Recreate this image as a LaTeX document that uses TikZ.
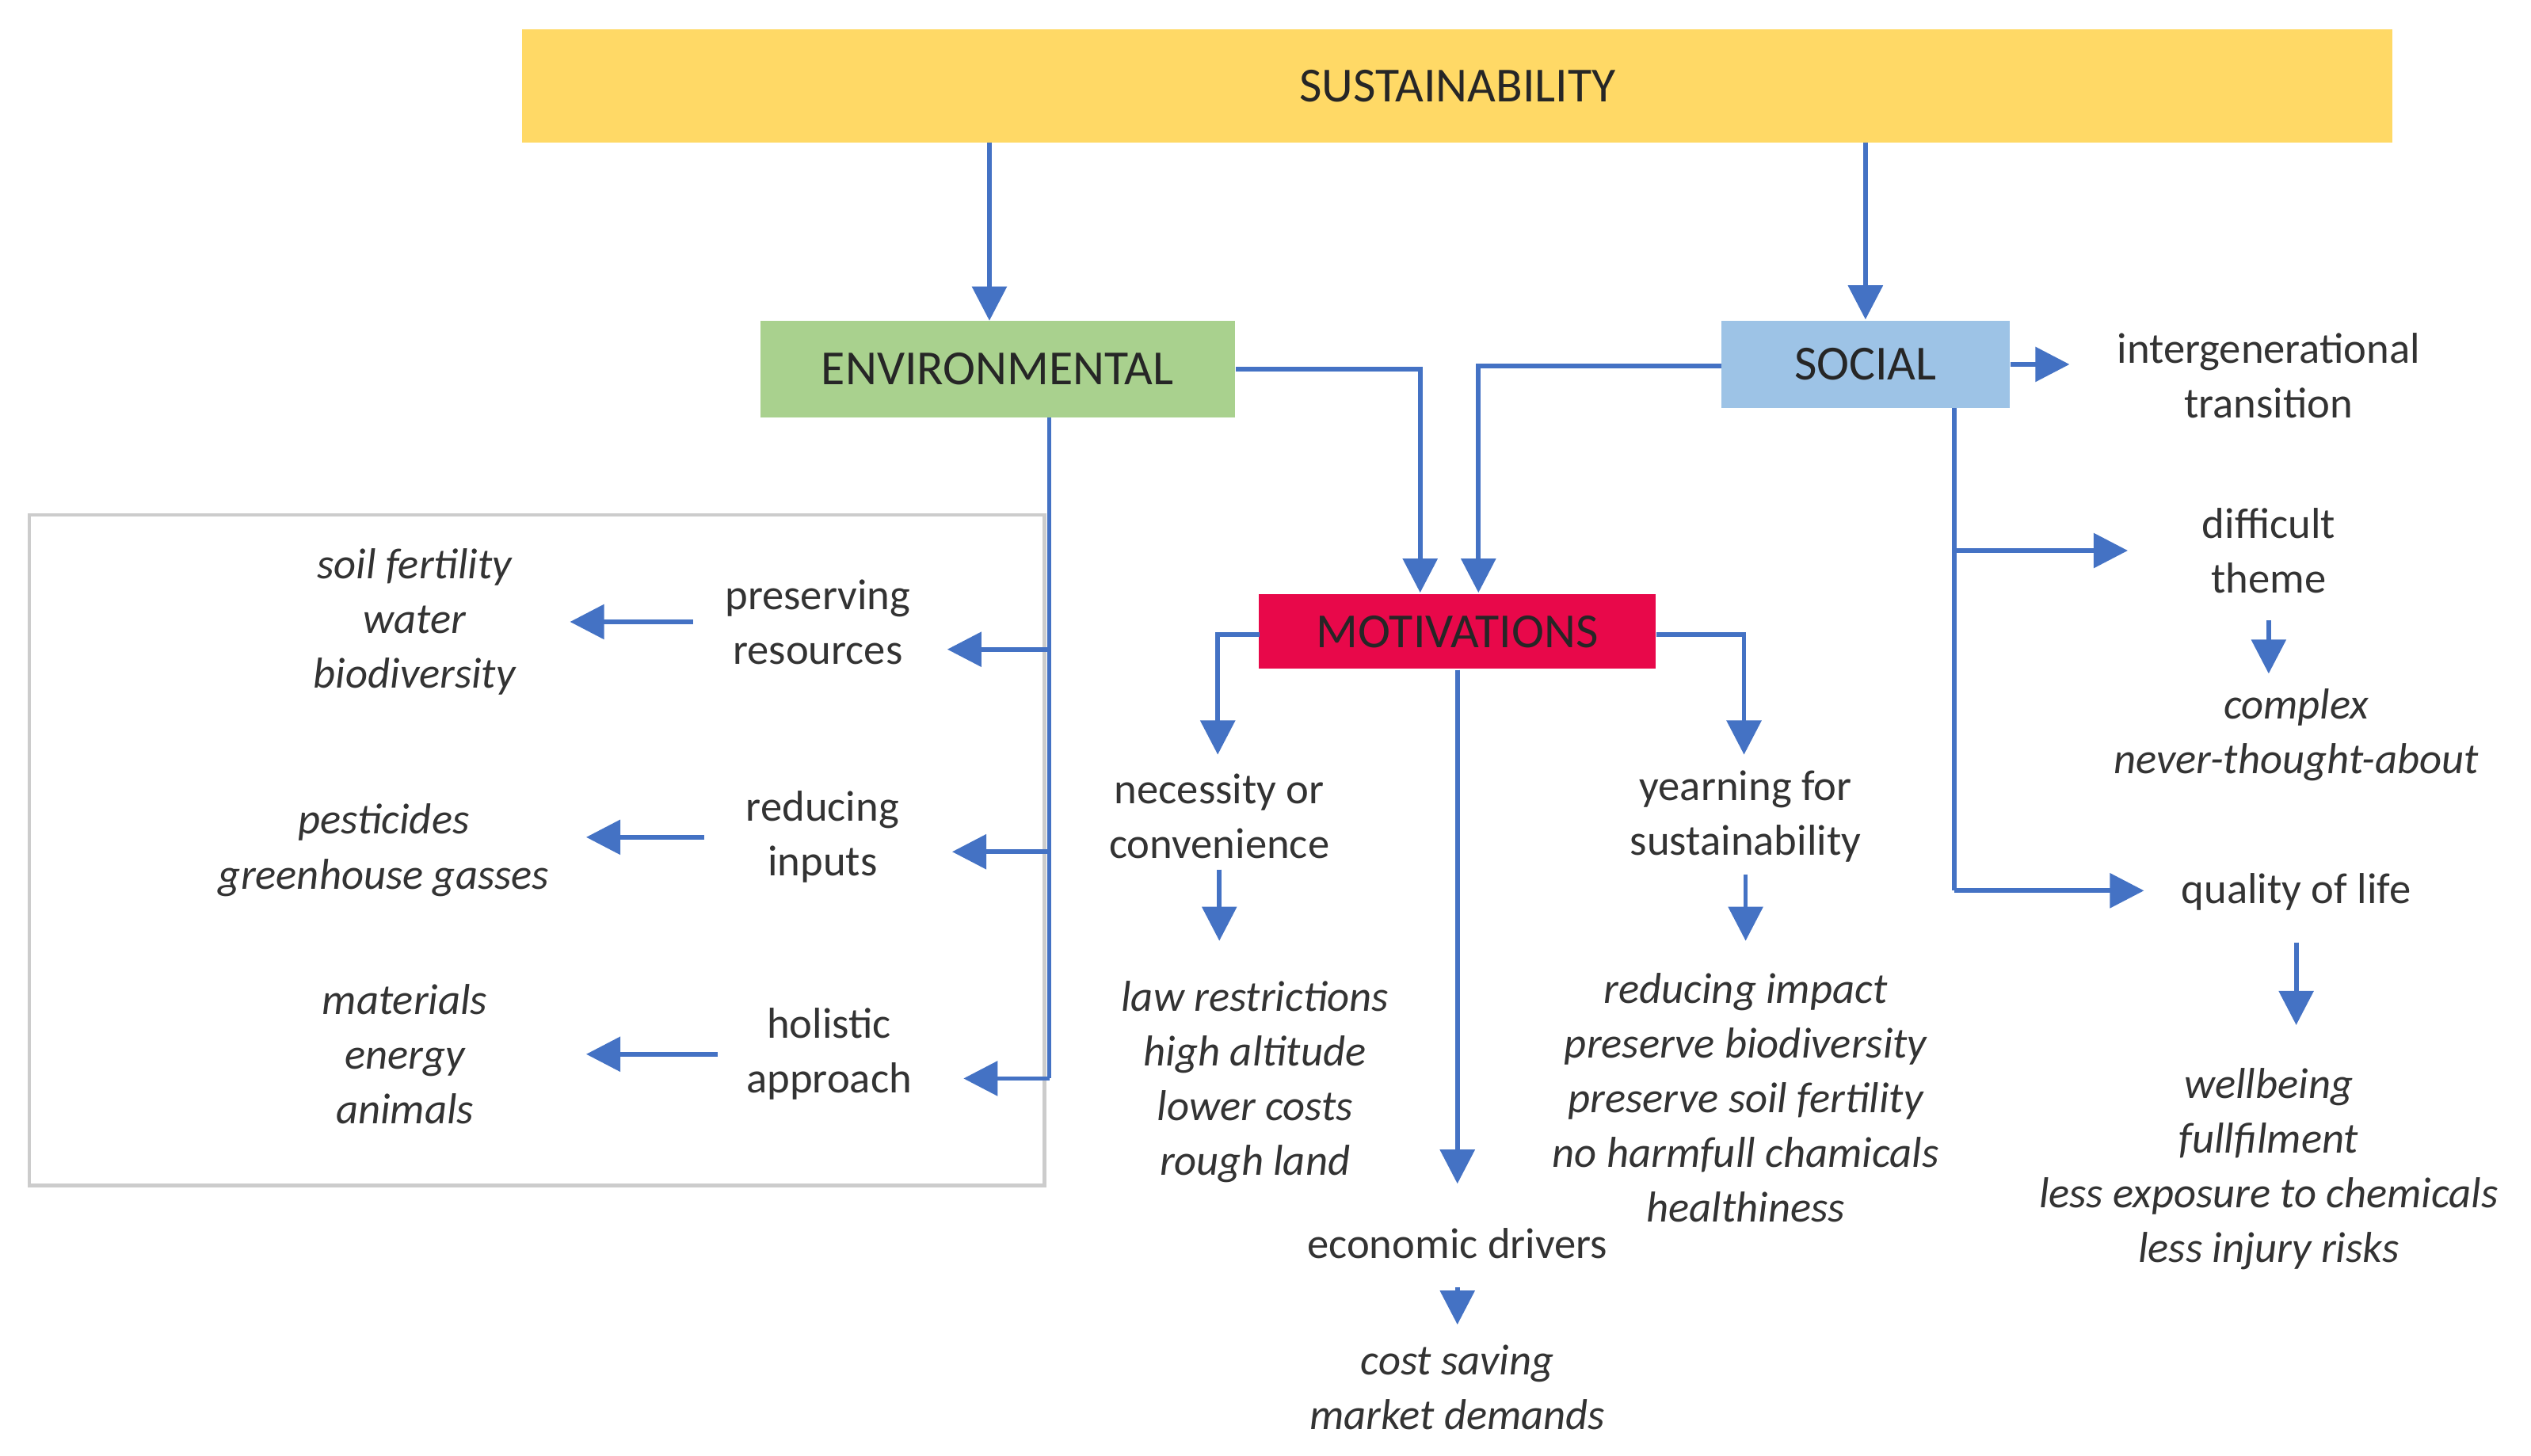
\documentclass[tikz,border=0pt]{standalone}
\usepackage{fontspec}
\setmainfont{Carlito}
\usetikzlibrary{arrows.meta}
\definecolor{sus}{HTML}{FFD966}
\definecolor{env}{HTML}{A9D18E}
\definecolor{soc}{HTML}{9DC3E6}
\definecolor{mot}{HTML}{E8084A}
\definecolor{arr}{HTML}{4472C4}
\begin{document}
\begin{tikzpicture}[x=0.01cm,y=-0.01cm,
  txt/.style={align=center,inner sep=0pt,font=\fontsize{7.6}{9.6}\selectfont,text=black!80},
  itx/.style={txt,font=\fontsize{7.6}{9.6}\selectfont\itshape},
  box/.style={draw=none,inner sep=0pt,font=\fontsize{8.6}{10}\selectfont,text=black!85},
  ar/.style={draw=arr,line width=0.8pt,-{Triangle[length=6pt,width=6pt]}},
  ln/.style={draw=arr,line width=0.8pt}]
\useasboundingbox (0,0) rectangle (1563,899);
\fill[white] (0,0) rectangle (1563,899);
\draw[black!20,line width=0.6pt] (18,318) rectangle (645,732);
% boxes
\node[box,fill=sus,minimum width=1155*0.01cm,minimum height=70*0.01cm] (sus) at (900,53) {SUSTAINABILITY};
\node[box,fill=env,minimum width=293*0.01cm,minimum height=60*0.01cm] (env) at (616,228) {ENVIRONMENTAL};
\node[box,fill=soc,minimum width=178*0.01cm,minimum height=54*0.01cm] (soc) at (1152,225) {SOCIAL};
\node[box,fill=mot,minimum width=245*0.01cm,minimum height=46*0.01cm] (mot) at (900,390) {MOTIVATIONS};
% top arrows
\coordinate (s1) at (611,88); \coordinate (e1) at (611,198);
\coordinate (s2) at (1152,88);
\draw[ar] (s1) -- (e1);
\draw[ar] (s2) -- (soc.north);
\coordinate (eb) at (877,228); \coordinate (m1) at (877,366);
\draw[ar] (env.east) -| (m1);
\coordinate (sl) at (1063,226); \coordinate (m2) at (913,366);
\draw[ar] (sl) -| (m2);
% social
\node[txt] (inter) at (1401,232) {intergenerational\\transition};
\coordinate (sr) at (1278,225);
\draw[ar] (soc.east) -- (sr);
\coordinate (sb) at (1207,252); \coordinate (sb1) at (1207,340); \coordinate (sb2) at (1207,550);
\coordinate (d1) at (1314,340); \coordinate (q1) at (1324,550);
\draw[ln] (sb) -- (sb2);
\draw[ar] (sb1) -- (d1);
\draw[ar] (sb2) -- (q1);
\node[txt] (diff) at (1401,340) {difficult\\theme};
\node[itx] (compl) at (1418,454) {complex\\never-thought-about};
\coordinate (da) at (1401,383); \coordinate (db) at (1401,416);
\draw[ar] (da) -- (db);
\node[txt] (qol) at (1418,551) {quality of life};
\coordinate (qa) at (1418,582); \coordinate (qb) at (1418,633);
\draw[ar] (qa) -- (qb);
\node[itx] (well) at (1401,722) {wellbeing\\fullfilment\\less exposure to chemicals\\less injury risks};
% environmental
\coordinate (et) at (648,258); \coordinate (eb1) at (648,401); \coordinate (eb2) at (648,526); \coordinate (eb3) at (648,666);
\coordinate (p1) at (585,401); \coordinate (p2) at (588,526); \coordinate (p3) at (595,666);
\draw[ln] (et) -- (eb3);
\draw[ar] (eb1) -- (p1);
\draw[ar] (eb2) -- (p2);
\draw[ar] (eb3) -- (p3);
\node[txt] (pres) at (505,384) {preserving\\resources};
\node[txt] (red) at (508,517) {reducing\\inputs};
\node[txt] (hol) at (512,651) {holistic\\approach};
\coordinate (a1) at (428,384); \coordinate (a1e) at (352,384);
\coordinate (a2) at (435,517); \coordinate (a2e) at (362,517);
\coordinate (a3) at (443,651); \coordinate (a3e) at (362,651);
\draw[ar] (a1) -- (a1e);
\draw[ar] (a2) -- (a2e);
\draw[ar] (a3) -- (a3e);
\node[itx] (soil) at (256,384) {soil fertility\\water\\biodiversity};
\node[itx] (pest) at (237,525) {pesticides\\greenhouse gasses};
\node[itx] (mat) at (250,651) {materials\\energy\\animals};
% motivations
\coordinate (ml) at (778,392); \coordinate (nt) at (752,466);
\draw[ar] (ml) -| (nt);
\node[txt] (nec) at (753,504) {necessity or\\convenience};
\coordinate (na) at (753,537); \coordinate (nb) at (753,581);
\draw[ar] (na) -- (nb);
\node[itx] (law) at (775,668) {law restrictions\\high altitude\\lower costs\\rough land};
\coordinate (mr) at (1023,392); \coordinate (yt) at (1077,466);
\draw[ar] (mr) -| (yt);
\node[txt] (yea) at (1078,504) {yearning for\\sustainability};
\coordinate (ya) at (1078,540); \coordinate (yb) at (1078,581);
\draw[ar] (ya) -- (yb);
\node[itx] (redi) at (1078,678) {reducing impact\\preserve biodiversity\\preserve soil fertility\\no harmfull chamicals\\healthiness};
\coordinate (ec) at (900,731);
\draw[ar] (mot.south) -- (ec);
\node[txt] (eco) at (900,768) {economic drivers};
\coordinate (ea) at (900,795); \coordinate (eb4) at (900,818);
\draw[ar] (ea) -- (eb4);
\node[itx] (cost) at (900,857) {cost saving\\market demands};
\end{tikzpicture}
\end{document}
